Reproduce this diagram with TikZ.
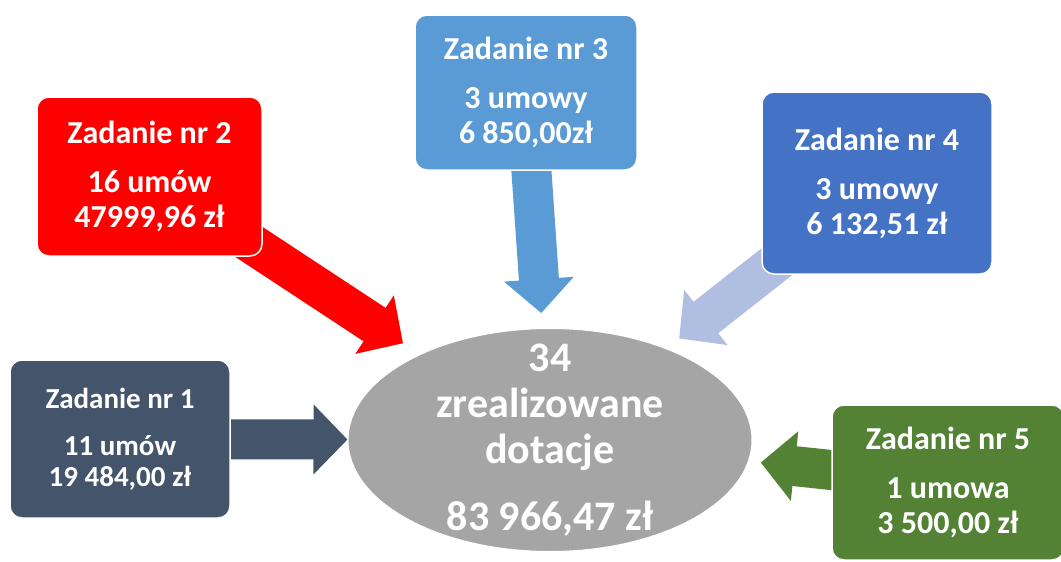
\documentclass[tikz,border=0pt]{standalone}
\usepackage{fontspec}
\setmainfont{Carlito}
\usetikzlibrary{shapes.geometric,arrows.meta,backgrounds}
\definecolor{zred}{HTML}{FF0000}
\definecolor{zlight}{HTML}{5B9BD5}
\definecolor{zblue}{HTML}{4472C4}
\definecolor{zpale}{HTML}{B0BFE1}
\definecolor{zslate}{HTML}{44546A}
\definecolor{zgreen}{HTML}{548235}
\definecolor{zgray}{HTML}{A5A5A5}
\tikzset{
  task/.style={rectangle, rounded corners=12pt, draw=white, line width=1.5pt,
    text=white, align=center, inner sep=0pt,
    font=\bfseries\fontsize{32}{35}\selectfont},
  bigarrow/.style={line width=40pt, -{Triangle[length=34pt,width=68pt]}},
}
\begin{document}
\begin{tikzpicture}[x=1pt,y=-1pt]
\useasboundingbox (0,0) rectangle (1061,562);
% central ellipse
\node[ellipse, fill=zgray, draw=white, line width=1pt, minimum width=404pt,
  minimum height=223pt, inner sep=0pt,
  label={[text=white, align=center, font=\bfseries\fontsize{42}{46}\selectfont]center:34\\zrealizowane\\dotacje\\[21pt]83 966,47 zł}]
  (total) at (550,440) {};
% tasks
\node[task, fill=zslate, minimum width=220pt, minimum height=158pt,
  font=\bfseries\fontsize{29}{31}\selectfont] (task1) at (120,439)
  {Zadanie nr 1\\[16pt]11 umów\\19 484,00 zł};
\node[task, fill=zred, minimum width=225pt, minimum height=159pt] (task2) at (149.5,176.5)
  {Zadanie nr 2\\[14pt]16 umów\\47999,96 zł};
\node[task, fill=zlight, minimum width=222pt, minimum height=155pt] (task3) at (526,92.5)
  {Zadanie nr 3\\[14pt]3 umowy\\6 850,00zł};
\node[task, fill=zblue, minimum width=230pt, minimum height=182pt] (task4) at (877,183)
  {Zadanie nr 4\\[14pt]3 umowy\\6 132,51 zł};
\node[task, fill=zgreen, minimum width=232pt, minimum height=155pt] (task5) at (948,482.5)
  {Zadanie nr 5\\[14pt]1 umowa\\3 500,00 zł};
% arrows
\begin{scope}[on background layer]
\draw[bigarrow, zslate] (task1.center) -- (total);
\draw[bigarrow, zred, shorten >=20pt] (task2.center) -- (total);
\draw[bigarrow, zlight, shorten >=15pt] (task3.center) -- (total);
\draw[bigarrow, zpale, shorten >=16pt] (task4.center) -- (total);
\draw[bigarrow, zgreen, shorten >=12pt] (task5.center) -- (total);
\end{scope}
\end{tikzpicture}
\end{document}
